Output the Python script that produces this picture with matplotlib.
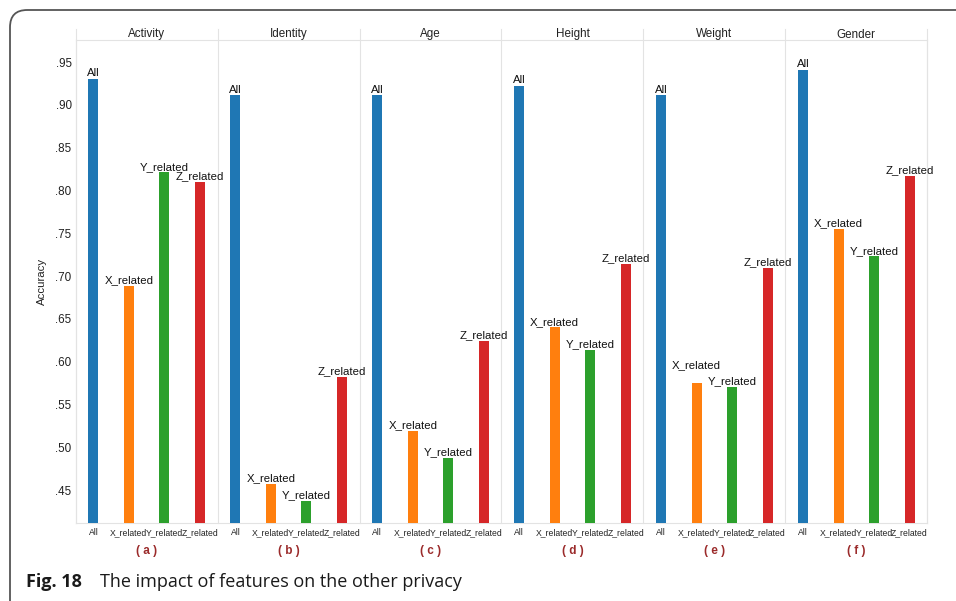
import matplotlib
matplotlib.use("Agg")
import matplotlib.pyplot as plt
from matplotlib.patches import FancyBboxPatch
import numpy as np

plt.rcParams["font.family"] = ["Liberation Sans", "DejaVu Sans"]

# ── data ─────────────────────────────────────────────────────────────────────
PANELS   = ["Activity", "Identity", "Age", "Height", "Weight", "Gender"]
FEATURES = ["All", "X_related", "Y_related", "Z_related"]
SUBTAGS  = ["( a )", "( b )", "( c )", "( d )", "( e )", "( f )"]

acc_all = [0.930, 0.911, 0.911, 0.922, 0.911, 0.941]
acc_x   = [0.689, 0.457, 0.519, 0.640, 0.575, 0.755]
acc_y   = [0.821, 0.437, 0.488, 0.614, 0.571, 0.723]
acc_z   = [0.810, 0.582, 0.624, 0.714, 0.710, 0.817]

YTICKS = [0.45, 0.50, 0.55, 0.60, 0.65, 0.70, 0.75, 0.80, 0.85, 0.90, 0.95]

COLORS = ["#1f77b4", "#ff7f0e", "#2ca02c", "#d62728"]
GRID = "#e3e3e3"

W, H = 956, 601
fig = plt.figure(figsize=(W / 100, H / 100), dpi=100)

# rounded frame running off the right/bottom edge
frame = FancyBboxPatch((10 / W, -20 / H), 980 / W, (H - 10 + 20) / H,
                       boxstyle="round,pad=0,rounding_size=0.018",
                       transform=fig.transFigure, facecolor="none",
                       edgecolor="#555555", linewidth=1.3, mutation_aspect=W / H)
fig.patches.append(frame)

ax_l, ax_r, ax_t, ax_b = 75.7, 927.3, 40, 522.7
ax = fig.add_axes([ax_l / W, 1 - ax_b / H, (ax_r - ax_l) / W, (ax_b - ax_t) / H])

series = [acc_all, acc_x, acc_y, acc_z]
n_feat = len(FEATURES)
xpos, heights, cols, labels = [], [], [], []
for p in range(len(PANELS)):
    for f in range(n_feat):
        xpos.append(p * n_feat + f)
        heights.append(series[f][p])
        cols.append(COLORS[f])
        labels.append(FEATURES[f])

# labels pushed up (in points) where two neighbours would collide
label_lift = {17: 9}

ymin, ymax = 0.412, 0.9757
bars = ax.bar(xpos, np.array(heights) - ymin, bottom=ymin, width=0.28,
              color=cols, edgecolor="none", zorder=3)
for i, (b, lab) in enumerate(zip(bars, labels)):
    ax.annotate(lab, (b.get_x() + b.get_width() / 2, b.get_y() + b.get_height()),
                xytext=(0, 0.5 + label_lift.get(i, 0)), textcoords="offset points",
                ha="center", va="bottom", fontsize=8.2, color="#111111", zorder=4)

ax.set_xlim(-0.5, len(xpos) - 0.5)
ax.set_ylim(ymin, ymax)
ax.set_yticks(YTICKS)
ax.set_yticklabels([f"{v:.2f}"[1:] for v in YTICKS])
ax.set_xticks(xpos)
ax.set_xticklabels(labels)
ax.tick_params(axis="y", length=0, pad=3, labelsize=8.4, labelcolor="#222222")
ax.tick_params(axis="x", length=0, pad=4, labelsize=6.2, labelcolor="#222222")
for s in ax.spines.values():
    s.set_color(GRID)
    s.set_linewidth(0.8)
ax.set_ylabel("Accuracy", fontsize=8.2, labelpad=6, color="#222222")

# panel separators, header band and titles
head = 11 / (ax_b - ax_t)
for p in range(len(PANELS) + 1):
    xb = p * n_feat - 0.5
    ax.plot([xb, xb], [0, 1 + head], transform=ax.get_xaxis_transform(),
            color=GRID, linewidth=0.8, clip_on=False, zorder=1)
for p, name in enumerate(PANELS):
    xc = p * n_feat + (n_feat - 1) / 2
    ax.text(xc, 1 + head / 2, name, transform=ax.get_xaxis_transform(),
            ha="center", va="center", fontsize=8.4, color="#222222")
    ax.text(xc, -0.058, SUBTAGS[p], transform=ax.get_xaxis_transform(),
            ha="center", va="center", fontsize=8.5, fontweight="bold",
            color="#9b2b2b")

# caption
fig.text(26 / W, 1 - 582 / H, "Fig. 18", fontsize=13, fontweight="bold",
         family="Open Sans", ha="left", va="center", color="#1a1a1a")
fig.text(100 / W, 1 - 582 / H, "The impact of features on the other privacy",
         fontsize=13, family="Open Sans", ha="left", va="center", color="#1a1a1a")

fig.savefig("out.png", dpi=100)
